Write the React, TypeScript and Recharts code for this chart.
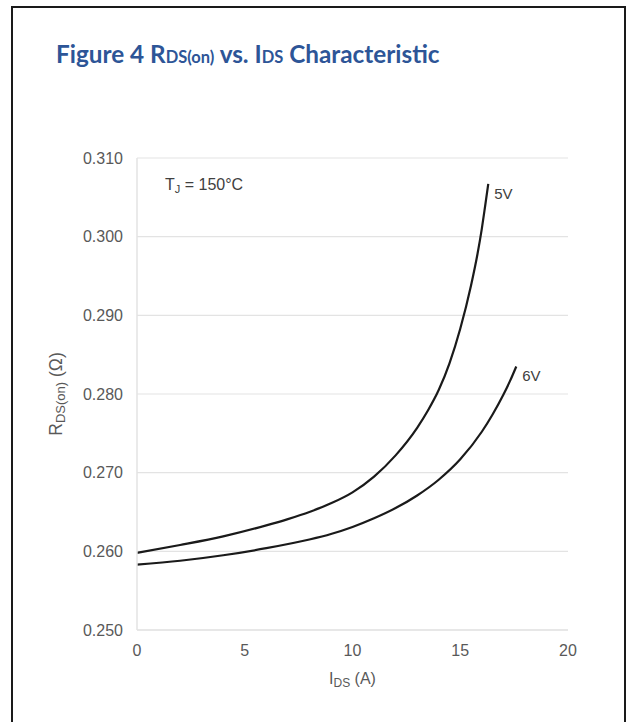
import { LineChart, Line, XAxis, YAxis, CartesianGrid, LabelList } from "recharts";

// Drain current (A) and on-resistance (Ω) at Tj = 150°C
const IDS_5V = [0, 2, 4, 6, 7, 8, 9, 10, 11, 12, 13, 13.5, 14, 14.5, 15, 15.5, 15.8, 16, 16.15, 16.3];
const RDS_5V = [0.2598, 0.2608, 0.2619, 0.2633, 0.2641, 0.265, 0.2661, 0.2675, 0.2695, 0.2722, 0.2757, 0.2779, 0.2805, 0.2839, 0.2883, 0.2938, 0.2978, 0.301, 0.3038, 0.3067];

const IDS_6V = [0, 2, 4, 6, 8, 9, 10, 11, 12, 13, 14, 15, 16, 16.5, 17, 17.3, 17.6];
const RDS_6V = [0.2583, 0.2588, 0.2595, 0.2604, 0.2615, 0.2622, 0.2631, 0.2642, 0.2655, 0.2671, 0.2691, 0.2717, 0.2752, 0.2774, 0.2799, 0.2816, 0.2835];

const X_TICKS = [0, 5, 10, 15, 20];
const Y_TICKS = [0.25, 0.26, 0.27, 0.28, 0.29, 0.3, 0.31];

const toPoints = (xs: number[], ys: number[]) => xs.map((ids, i) => ({ ids, rds: ys[i] }));
const curve5V = toPoints(IDS_5V, RDS_5V);
const curve6V = toPoints(IDS_6V, RDS_6V);

const TEXT = "#595959";
const GRID = "#e3e3e3";
const FONT = "Arial, 'Liberation Sans', sans-serif";

const endLabel = (name: string, count: number) => (props: any) => {
  if (props.index !== count - 1) return null;
  return (
    <text x={props.x + 6} y={props.y + 15} fontSize={15} fill="#404040" fontFamily={FONT}>
      {name}
    </text>
  );
};

const XLabel = (props: any) => {
  const { x, y, width } = props.viewBox;
  return (
    <text x={x + width / 2} y={y + 54} textAnchor="middle" fontSize={16} fill={TEXT} fontFamily={FONT}>
      <tspan>I</tspan>
      <tspan fontSize={12} dy={3}>DS</tspan>
      <tspan dy={-3}> (A)</tspan>
    </text>
  );
};

const YLabel = (props: any) => {
  const { x, y, height } = props.viewBox;
  const cx = x + 62;
  const cy = y + height / 2;
  return (
    <text x={cx} y={cy} transform={`rotate(-90, ${cx}, ${cy})`} textAnchor="middle" fontSize={17.5} fill={TEXT} fontFamily={FONT}>
      <tspan>R</tspan>
      <tspan fontSize={13} dy={3}>DS(on)</tspan>
      <tspan dy={-3}> (Ω)</tspan>
    </text>
  );
};

export default function App() {
  return (
    <div style={{ position: "absolute", left: 0, top: 0, width: 632, height: 722, background: "#fff", overflow: "hidden", fontFamily: FONT }}>
      <div style={{ position: "absolute", left: 11, top: 6, width: 611, height: 740, border: "2px solid #1a1a1a" }} />
      <div
        style={{
          position: "absolute",
          left: 56,
          top: 42,
          lineHeight: "24px",
          fontSize: 24.3,
          fontWeight: 700,
          fontFamily: "Lato, 'Open Sans', sans-serif",
          color: "#2d5597",
          whiteSpace: "nowrap",
        }}
      >
        Figure 4 R<span style={{ fontSize: 16.5 }}>DS(on)</span> vs. I<span style={{ fontSize: 16.5 }}>DS</span> Characteristic
      </div>
      <LineChart
        width={632}
        height={722}
        margin={{ top: 158, right: 64, bottom: 0, left: 0 }}
        style={{ position: "absolute", left: 0, top: 0 }}
      >
        <CartesianGrid vertical={false} stroke={GRID} strokeWidth={1.2} />
        <XAxis
          dataKey="ids"
          type="number"
          domain={[0, 20]}
          ticks={X_TICKS}
          allowDuplicatedCategory={false}
          stroke={GRID}
          strokeWidth={1.5}
          tickLine={false}
          tickSize={0}
          tickMargin={15}
          tick={{ fill: TEXT, fontSize: 16, fontFamily: FONT }}
          height={92}
          label={<XLabel />}
        />
        <YAxis
          type="number"
          domain={[0.25, 0.31]}
          ticks={Y_TICKS}
          tickFormatter={(v: number) => v.toFixed(3)}
          stroke={GRID}
          strokeWidth={1.5}
          tickLine={false}
          tickSize={0}
          tickMargin={14}
          tick={{ fill: TEXT, fontSize: 16, fontFamily: FONT }}
          width={137}
          label={<YLabel />}
        />
        <Line data={curve5V} dataKey="rds" type="monotone" stroke="#1a1a1a" strokeWidth={2.2} dot={false} isAnimationActive={false}>
          <LabelList dataKey="rds" content={endLabel("5V", curve5V.length)} />
        </Line>
        <Line data={curve6V} dataKey="rds" type="monotone" stroke="#1a1a1a" strokeWidth={2.2} dot={false} isAnimationActive={false}>
          <LabelList dataKey="rds" content={endLabel("6V", curve6V.length)} />
        </Line>
      </LineChart>
      <div style={{ position: "absolute", left: 165, top: 177, fontSize: 16, lineHeight: "16px", color: "#404040", whiteSpace: "nowrap" }}>
        T<span style={{ fontSize: 11, position: "relative", top: 3 }}>J</span> = 150°C
      </div>
    </div>
  );
}
